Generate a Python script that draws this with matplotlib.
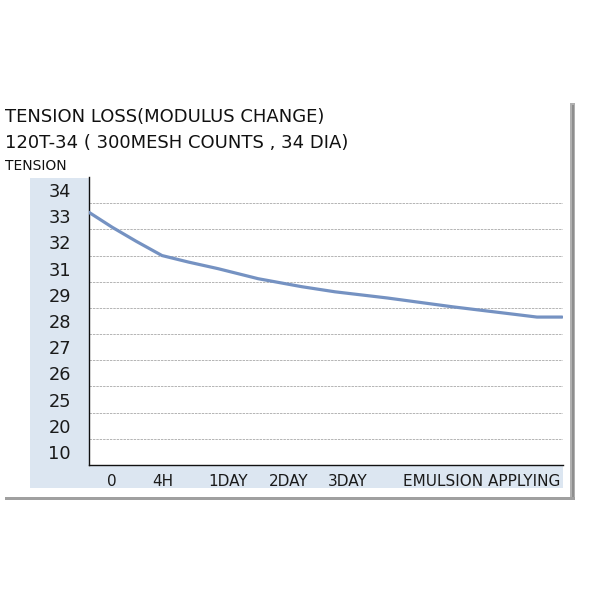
import numpy as np
import matplotlib
matplotlib.use("Agg")
import matplotlib.pyplot as plt
from matplotlib.patches import Rectangle

# ---- data ----
title1 = "TENSION LOSS(MODULUS CHANGE)"
title2 = "120T-34 ( 300MESH COUNTS , 34 DIA)"
y_title = "TENSION"
y_labels = [10, 20, 25, 26, 27, 28, 29, 31, 32, 33, 34]
x_labels = ["0", "4H", "1DAY", "2DAY", "3DAY", "EMULSION APPLYING"]
x_label_pos = [4.9, 15.6, 29.3, 42.2, 54.6, 82.9]
time_pos = [0, 4.9, 10, 15.4, 21, 27.2, 35.7, 44.9, 51.9, 62.9, 76.8, 90.9, 94.5, 99.8]
tension = [33.15, 32.58, 32.04, 31.5, 31.25, 31.0, 30.23, 29.62, 29.23, 28.88, 28.54,
           28.23, 28.15, 28.15]

# categorical-like y scale: every label gets an equal band
scale_vals = [5] + y_labels + [35]
scale_pos = [0] + [i + 0.5 for i in range(len(y_labels))] + [len(y_labels)]

def fwd(v):
    return np.interp(v, scale_vals, scale_pos)

def inv(p):
    return np.interp(p, scale_pos, scale_vals)

W, H = 600, 600
fig = plt.figure(figsize=(6, 6), dpi=100)
fig.patch.set_facecolor("white")

def fx(x):
    return x / W

def fy(y):
    return 1 - y / H

FONT = "DejaVu Sans"
blue_bg = "#dce6f1"

def add_rect(x0, y0, x1, y1, color):
    fig.patches.append(Rectangle((fx(x0), fy(y1)), fx(x1 - x0), (y1 - y0) / H,
                                 transform=fig.transFigure, facecolor=color,
                                 edgecolor="none", zorder=-1))

# blue label bands
add_rect(30, 178, 89, 488, blue_bg)
add_rect(89, 465, 563, 488, blue_bg)
# shadow frame
add_rect(570, 103, 575, 500, "#b0b0b0")
add_rect(571.5, 105, 573.5, 499, "#8e8e8e")
add_rect(5, 496.5, 575, 500, "#a0a0a0")

ax = fig.add_axes([fx(89), fy(465), fx(474), 288 / H])
ax.set_facecolor("none")
ax.set_yscale("function", functions=(fwd, inv))
ax.set_ylim(5, 35)
ax.set_xlim(0, 100)

ax.plot(time_pos, tension, color="#7592c2", lw=2.3, solid_capstyle="round",
        solid_joinstyle="round", zorder=3)

ax.set_yticks(y_labels)
ax.set_yticklabels([str(v) for v in y_labels], fontsize=12.8, family=FONT,
                   color="#1a1a1a")
grid_vals = [(y_labels[i] + y_labels[i + 1]) / 2 for i in range(len(y_labels) - 1)]
for g in grid_vals:
    ax.axhline(g, color="#b4b4b4", lw=0.7, ls=(0, (2.5, 1)), zorder=1)
ax.yaxis.set_minor_locator(matplotlib.ticker.NullLocator())

ax.set_xticks(x_label_pos)
ax.set_xticklabels(x_labels, fontsize=11, family=FONT, color="#1a1a1a")
ax.tick_params(axis="y", length=0, pad=13)
ax.tick_params(axis="x", length=0, pad=6.5)

for s in ["top", "right"]:
    ax.spines[s].set_visible(False)
for s in ["left", "bottom"]:
    ax.spines[s].set_color("#111111")
    ax.spines[s].set_linewidth(1.0)

fig.text(fx(5), fy(122), title1, fontsize=13, family=FONT, va="baseline",
         ha="left", color="#111111")
fig.text(fx(5), fy(148), title2, fontsize=13, family=FONT, va="baseline",
         ha="left", color="#111111")
fig.text(fx(5), fy(170), y_title, fontsize=10, family=FONT, va="baseline",
         ha="left", color="#111111")

fig.savefig("out.png", dpi=100, facecolor="white")
